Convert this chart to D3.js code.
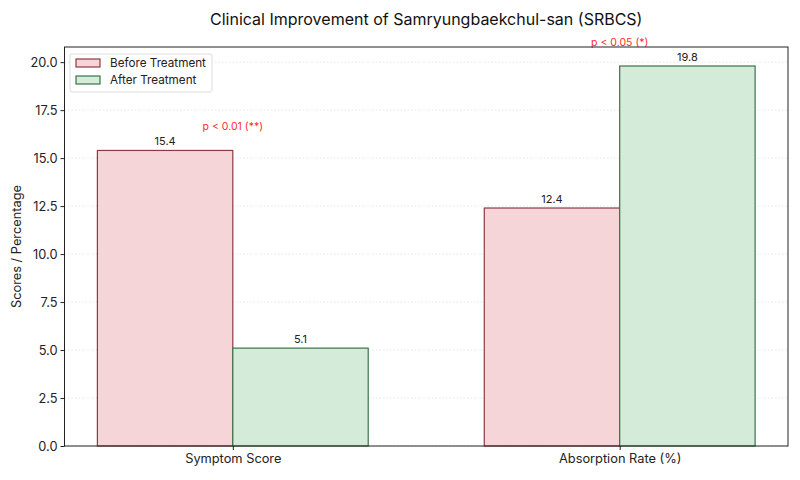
<!DOCTYPE html>
<html><head><meta charset="utf-8">
<script src="https://cdn.jsdelivr.net/npm/d3@7"></script>
<style>body{margin:0;background:#fff}svg{font-family:Inter,"Open Sans",sans-serif}</style>
</head><body><svg id="c" width="800" height="480"></svg>
<script>
const categories = ["Symptom Score", "Absorption Rate (%)"];
const seriesNames = ["Before Treatment", "After Treatment"];
const beforeValues = [15.4, 12.4];
const afterValues = [5.1, 19.8];
const pLabels = ["p < 0.01 (**)", "p < 0.05 (*)"];
const yTicks = [0, 2.5, 5, 7.5, 10, 12.5, 15, 17.5, 20];

const fills = ["#f6d5d9", "#d4ebd9"];
const strokes = ["#8c3a44", "#3a7346"];
const FF = "Inter";

const svg = d3.select("#c");
const m = {l: 64.5, r: 788, t: 47, b: 446};
const x = d3.scaleLinear().domain([-0.435, 1.435]).range([m.l, m.r]);
const y = d3.scaleLinear().domain([0, 20.79]).range([m.b, m.t]);
const bw = 0.35;

// grid
svg.append("g").selectAll("line").data(yTicks).join("line")
  .attr("x1", m.l).attr("x2", m.r).attr("y1", d => y(d)).attr("y2", d => y(d))
  .attr("stroke", "#e0e0e0").attr("stroke-width", 0.8).attr("stroke-dasharray", "1.5,2");

const series = [beforeValues, afterValues];
series.forEach((vals, s) => {
  const off = s === 0 ? -bw : 0;
  svg.append("g").selectAll("rect").data(vals).join("rect")
    .attr("x", (d, i) => x(i + off)).attr("width", x(bw) - x(0))
    .attr("y", d => y(d)).attr("height", d => y(0) - y(d))
    .attr("fill", fills[s]).attr("stroke", strokes[s]).attr("stroke-width", 1.2);
  svg.append("g").selectAll("text").data(vals).join("text")
    .attr("x", (d, i) => x(i + off + bw / 2)).attr("y", d => y(d) - 5)
    .attr("text-anchor", "middle").attr("font-size", 11).attr("fill", "#222")
    .text(d => d.toFixed(1));
});

// p-value annotations
svg.append("g").selectAll("text").data(pLabels).join("text")
  .attr("x", (d, i) => x(i)).attr("y", (d, i) => y(Math.max(beforeValues[i], afterValues[i]) + 1.0) - 1)
  .attr("text-anchor", "middle").attr("font-size", 10.5).attr("fill", "#ff2a2a")
  .text(d => d);

// frame
svg.append("rect").attr("x", m.l).attr("y", m.t).attr("width", m.r - m.l).attr("height", m.b - m.t)
  .attr("fill", "none").attr("stroke", "#222").attr("stroke-width", 1);

// axes
const ya = svg.append("g").attr("transform", `translate(${m.l},0)`)
  .call(d3.axisLeft(y).tickValues(yTicks).tickFormat(d3.format(".1f")).tickSize(4).tickPadding(3));
ya.select(".domain").remove();
ya.selectAll("text").attr("font-size", 12.8).attr("fill", "#222").attr("font-family", FF);
ya.selectAll("line").attr("stroke", "#222");

const xa = svg.append("g").attr("transform", `translate(0,${m.b})`)
  .call(d3.axisBottom(x).tickValues([0, 1]).tickFormat(i => categories[i]).tickSize(4).tickPadding(4));
xa.select(".domain").remove();
xa.selectAll("text").attr("font-size", 12.8).attr("fill", "#222").attr("font-family", FF);
xa.selectAll("line").attr("stroke", "#222");

// y label
svg.append("text").attr("transform", `translate(21,${(m.t + m.b) / 2}) rotate(-90)`)
  .attr("text-anchor", "middle").attr("font-size", 12.8).attr("fill", "#222").text("Scores / Percentage");

// title
svg.append("text").attr("x", (m.l + m.r) / 2).attr("y", 25).attr("text-anchor", "middle")
  .attr("font-size", 16).attr("fill", "#111").text("Clinical Improvement of Samryungbaekchul-san (SRBCS)");

// legend
const lg = svg.append("g").attr("transform", "translate(70,54)");
lg.append("rect").attr("width", 142).attr("height", 38).attr("rx", 2)
  .attr("fill", "#fff").attr("fill-opacity", 0.8).attr("stroke", "#ddd");
seriesNames.forEach((n, s) => {
  lg.append("rect").attr("x", 6).attr("y", 5 + s * 17).attr("width", 24).attr("height", 8)
    .attr("fill", fills[s]).attr("stroke", strokes[s]).attr("stroke-width", 1.2);
  lg.append("text").attr("x", 40).attr("y", 13 + s * 17).attr("font-size", 11.7).attr("fill", "#222").text(n);
});
</script></body></html>
